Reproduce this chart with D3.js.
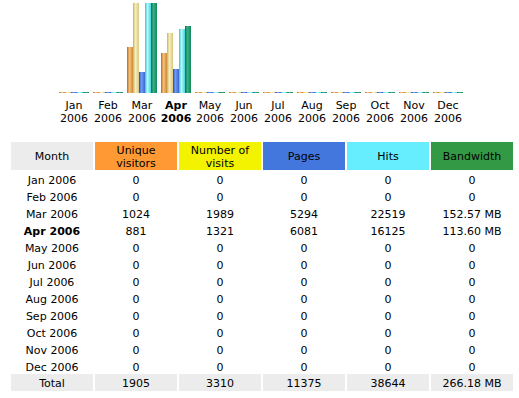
<!DOCTYPE html>
<html><head><meta charset="utf-8">
<script src="https://cdn.jsdelivr.net/npm/d3@7"></script>
<style>
html,body{margin:0;padding:0;background:#fff;}
svg{display:block;font-family:"DejaVu Sans",Verdana,sans-serif;}
</style></head>
<body>
<script>
const months = ["Jan","Feb","Mar","Apr","May","Jun","Jul","Aug","Sep","Oct","Nov","Dec"];
const year = "2006";
const currentMonth = "Apr";
const uniqueVisitors = [0,0,1024,881,0,0,0,0,0,0,0,0];
const visits = [0,0,1989,1321,0,0,0,0,0,0,0,0];
const pages = [0,0,5294,6081,0,0,0,0,0,0,0,0];
const hits = [0,0,22519,16125,0,0,0,0,0,0,0,0];
const bandwidthMB = [0,0,152.57,113.60,0,0,0,0,0,0,0,0];
const headers = ["Month","Unique\nvisitors","Number of\nvisits","Pages","Hits","Bandwidth"];
const totals = ["Total","1905","3310","11375","38644","266.18 MB"];

const W=519,H=398;
const svg=d3.select("body").append("svg").attr("width",W).attr("height",H);
const defs=svg.append("defs");

const series=[
 {key:"u",vals:uniqueVisitors,grp:"v",c:["#b86818","#f2c27a","#d08a3a"]},
 {key:"v",vals:visits,grp:"v",c:["#c8b060","#f6eebc","#d8c880"]},
 {key:"p",vals:pages,grp:"h",c:["#2848b8","#6e9cf4","#3a64d0"]},
 {key:"h",vals:hits,grp:"h",c:["#38c0cc","#b4fafa","#48d4dc"]},
 {key:"k",vals:bandwidthMB,grp:"k",c:["#0c7048","#3ab088","#108858"]}
];
series.forEach(s=>{
 const g=defs.append("linearGradient").attr("id","g"+s.key).attr("x1","0").attr("x2","1").attr("y1","0").attr("y2","0");
 g.append("stop").attr("offset","0").attr("stop-color",s.c[0]);
 g.append("stop").attr("offset","0.4").attr("stop-color",s.c[1]);
 g.append("stop").attr("offset","1").attr("stop-color",s.c[2]);
});

const x=d3.scaleBand().domain(months).range([57,465]).paddingInner(4/34).paddingOuter(2/34);
const xs=d3.scaleBand().domain(series.map(s=>s.key)).range([0,x.bandwidth()]);
const base=93, maxH=90;
const yScales={
 v:d3.scaleLinear().domain([0,d3.max(visits)]).range([0,maxH]),
 h:d3.scaleLinear().domain([0,d3.max(hits)]).range([0,maxH]),
 k:d3.scaleLinear().domain([0,d3.max(bandwidthMB)]).range([0,maxH])
};
const chart=svg.append("g");
series.forEach(s=>{
 chart.selectAll(null).data(months).enter().append("rect")
  .attr("x",(m)=>x(m)+xs(s.key))
  .attr("width",xs.bandwidth())
  .attr("y",(m,i)=>base-Math.max(1,Math.round(yScales[s.grp](s.vals[i]))))
  .attr("height",(m,i)=>Math.max(1,Math.round(yScales[s.grp](s.vals[i]))))
  .attr("fill","url(#g"+s.key+")");
});
const lab=chart.selectAll(null).data(months).enter().append("text")
 .attr("x",m=>x(m)+x.bandwidth()/2).attr("text-anchor","middle")
 .attr("font-size","11px").attr("fill","#000")
 .attr("font-weight",m=>m===currentMonth?"bold":"normal");
lab.append("tspan").attr("x",m=>x(m)+x.bandwidth()/2).attr("y",109).text(m=>m);
lab.append("tspan").attr("x",m=>x(m)+x.bandwidth()/2).attr("y",122).text(year);

// table
const colX=[11,95,179,263,347,431], colW=82;
const headBg=["#ececec","#ff9933","#f3f300","#4477dd","#66eeff","#339944"];
const tbl=svg.append("g");
tbl.selectAll(null).data(headers).enter().append("rect")
 .attr("x",(d,i)=>colX[i]).attr("y",142).attr("width",colW).attr("height",28)
 .attr("fill",(d,i)=>headBg[i]);
headers.forEach((h,i)=>{
 const lines=h.split("\n");
 const t=tbl.append("text").attr("text-anchor","middle").attr("font-size","11px").attr("fill","#000");
 const cy=156, lh=13;
 lines.forEach((ln,j)=>{
  t.append("tspan").attr("x",colX[i]+colW/2).attr("y",cy+4+(j-(lines.length-1)/2)*lh).text(ln);
 });
});
const fmtBw=v=>v===0?"0":v.toFixed(2)+" MB";
const rows=months.map((m,i)=>[m+" "+year,String(uniqueVisitors[i]),String(visits[i]),String(pages[i]),String(hits[i]),fmtBw(bandwidthMB[i])]);
rows.forEach((r,ri)=>{
 const cy=180+17*ri;
 r.forEach((v,ci)=>{
  tbl.append("text").attr("x",colX[ci]+colW/2).attr("y",cy+4).attr("text-anchor","middle")
   .attr("font-size","11px").attr("fill","#000")
   .attr("font-weight",(ci===0&&months[ri]===currentMonth)?"bold":"normal").text(v);
 });
});
tbl.selectAll(null).data(totals).enter().append("rect")
 .attr("x",(d,i)=>colX[i]).attr("y",374).attr("width",colW).attr("height",17).attr("fill","#ececec");
totals.forEach((v,ci)=>{
 tbl.append("text").attr("x",colX[ci]+colW/2).attr("y",387).attr("text-anchor","middle")
  .attr("font-size","11px").attr("fill","#000").text(v);
});
</script>
</body></html>
